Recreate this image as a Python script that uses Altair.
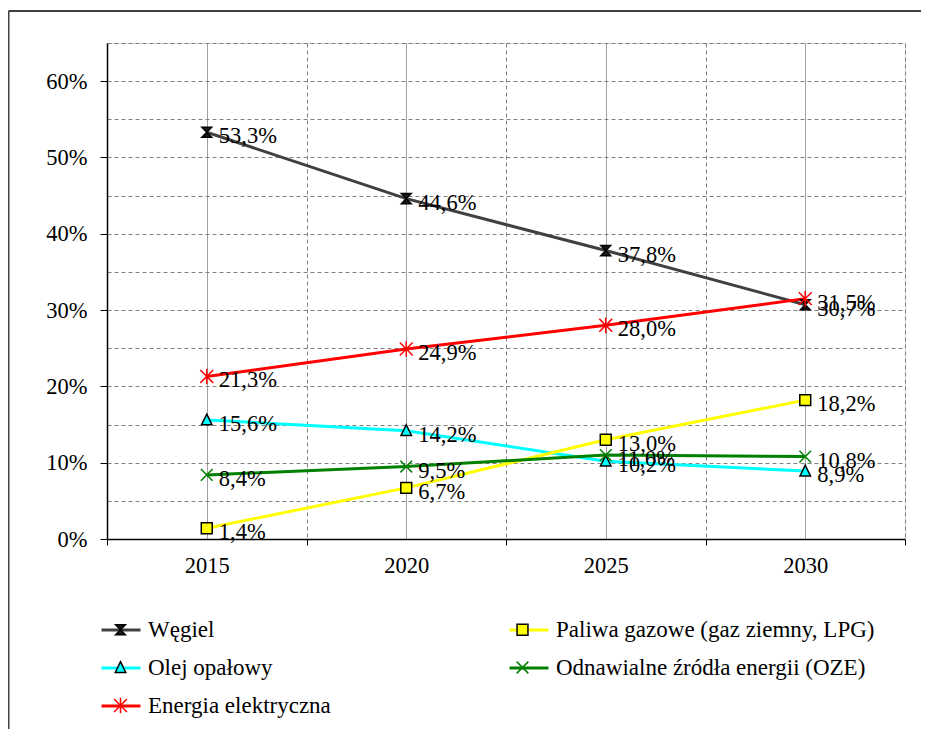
import altair as alt
import pandas as pd

# ---- data (listed in legend order, column by column) ----
years = [2015, 2020, 2025, 2030]
series_names = [
    "Węgiel",
    "Olej opałowy",
    "Energia elektryczna",
    "Paliwa gazowe (gaz ziemny, LPG)",
    "Odnawialne źródła energii (OZE)",
]
wegiel = [53.3, 44.6, 37.8, 30.7]
olej = [15.6, 14.2, 10.2, 8.9]
energia = [21.3, 24.9, 28.0, 31.5]
paliwa = [1.4, 6.7, 13.0, 18.2]
oze = [8.4, 9.5, 11.0, 10.8]
series_values = [wegiel, olej, energia, paliwa, oze]

y_ticks = [0.0, 0.05, 0.10, 0.15, 0.20, 0.25, 0.30, 0.35, 0.40, 0.45, 0.50, 0.55, 0.60, 0.65]
x_ticks = [2012.5, 2015, 2017.5, 2020, 2022.5, 2025, 2027.5, 2030, 2032.5]

# ---- styles ----
line_colors = ["#404040", "#00FFFF", "#FF0000", "#FFFF00", "#008000"]
marker_fills = ["#1a1a1a", "#00FFFF", "#FF0000", "#FFFF00", "#008000"]
marker_strokes = ["#000000", "#000000", "#FF0000", "#000000", "#008000"]
marker_paths = [
    "M-0.25,-0.26L0.25,-0.26L-0.25,0.26L0.25,0.26Z",
    "M0,-0.3L0.27,0.25H-0.27Z",
    "M-0.33,-0.33L0.33,0.33M-0.33,0.33L0.33,-0.33M0,-0.4V0.4",
    "M-0.28,-0.28H0.28V0.28H-0.28Z",
    "M-0.3,-0.3L0.3,0.3M-0.3,0.3L0.3,-0.3",
]
FONT = "Liberation Serif"

rows = []
for i, (name, vals) in enumerate(zip(series_names, series_values)):
    for yr, v in zip(years, vals):
        rows.append({
            "series": name,
            "series_m": name,
            "order": i,
            "year": yr,
            "value": v / 100.0,
            "label": f"{v:.1f}".replace(".", ",") + "%",
        })
df = pd.DataFrame(rows)

sort_order = alt.EncodingSortField(field="order", op="min")

x_enc = alt.X(
    "year:Q",
    scale=alt.Scale(domain=[2012.5, 2032.5], nice=False, zero=False),
    axis=alt.Axis(
        values=x_ticks,
        format="d",
        labelExpr="datum.value % 5 == 0 ? datum.label : ''",
        title=None,
        grid=True,
        gridColor="#808080",
        gridWidth=1,
        gridDash={"condition": {"test": "datum.value % 5 == 0", "value": [1, 0]}, "value": [4, 3]},
        tickOpacity={"condition": {"test": "datum.value % 5 == 0", "value": 0}, "value": 1},
        tickColor="black",
        tickSize=6,
        domainColor="black",
        domainWidth=1.5,
        labelFont=FONT,
        labelFontSize=22.5,
        labelColor="black",
        labelPadding=9,
    ),
)
y_enc = alt.Y(
    "value:Q",
    scale=alt.Scale(domain=[0, 0.65], nice=False, zero=True),
    axis=alt.Axis(
        values=y_ticks,
        format=".0%",
        labelExpr="round(datum.value*100) % 10 == 0 ? datum.label : ''",
        title=None,
        grid=True,
        gridColor="#808080",
        gridWidth=1,
        gridDash=[4, 3],
        tickOpacity={"condition": {"test": "round(datum.value*100) % 10 != 0", "value": 0}, "value": 1},
        tickColor="black",
        tickSize=7,
        domainColor="black",
        domainWidth=1.5,
        labelFont=FONT,
        labelFontSize=22.5,
        labelColor="black",
        labelPadding=13,
    ),
)

common_legend = dict(
    orient="none",
    legendX=-7,
    legendY=566,
    columns=2,
    columnPadding=172,
    rowPadding=5,
    symbolSize=1521,
    labelFont=FONT,
    labelFontSize=23,
    labelColor="black",
    labelOffset=6,
    labelLimit=600,
    title=None,
    padding=0,
)
legend_lines = alt.Legend(symbolType="stroke", symbolStrokeWidth=3, zindex=1, **common_legend)
legend_marks = alt.Legend(symbolStrokeWidth=1.5, labelOpacity=0, zindex=2, **common_legend)

base = alt.Chart(df)

lines = base.mark_line(strokeWidth=3).encode(
    x=x_enc,
    y=y_enc,
    color=alt.Color("series:N", sort=sort_order, scale=alt.Scale(range=line_colors), legend=legend_lines),
    order="year:Q",
)

points = base.mark_point(filled=True, size=1521, opacity=1, strokeWidth=1.5).encode(
    x=x_enc,
    y=y_enc,
    shape=alt.Shape("series_m:N", sort=sort_order, scale=alt.Scale(range=marker_paths), legend=legend_marks),
    fill=alt.Fill("series_m:N", sort=sort_order, scale=alt.Scale(range=marker_fills), legend=legend_marks),
    stroke=alt.Stroke("series_m:N", sort=sort_order, scale=alt.Scale(range=marker_strokes), legend=legend_marks),
)

labels = base.mark_text(
    align="left", baseline="middle", dx=12, dy=4, font=FONT, fontSize=22.5, color="black"
).encode(x=x_enc, y=y_enc, text="label:N")

# outer frame (top and left edges of the surrounding box)
frame_df = pd.DataFrame({"k": [0]})
frame_top = alt.Chart(frame_df).mark_rule(stroke="#404040", strokeWidth=2).encode(
    x=alt.value(-98.5), x2=alt.value(814), y=alt.value(-32), y2=alt.value(-32)
)
frame_left = alt.Chart(frame_df).mark_rule(stroke="#404040", strokeWidth=2).encode(
    x=alt.value(-98.5), x2=alt.value(-98.5), y=alt.value(-32), y2=alt.value(690)
)

chart = alt.layer(lines, points, labels, frame_top, frame_left).properties(
    width=798,
    height=496,
    padding={"left": 99, "top": 35, "right": 16, "bottom": 190},
    autosize=alt.AutoSizeParams(type="none"),
).configure_view(
    stroke="#303030", strokeWidth=1.5
).configure(background="white")

chart.save("out.html", embed_options={"renderer": "svg", "actions": False})
